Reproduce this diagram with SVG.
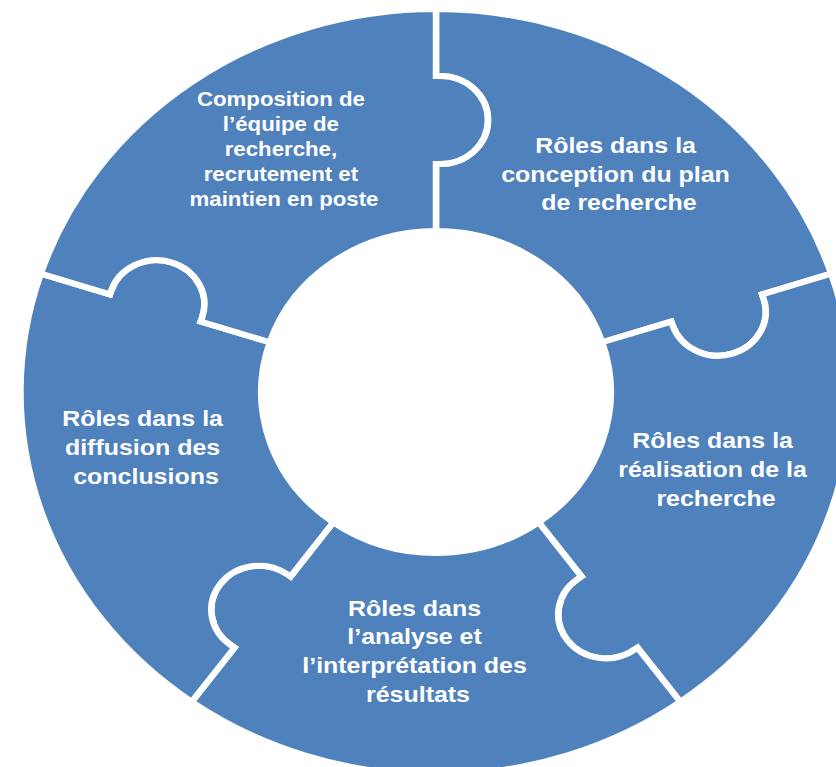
<svg xmlns="http://www.w3.org/2000/svg" xmlns:xlink="http://www.w3.org/1999/xlink" width="836" height="767" viewBox="0 0 836 767">
  <style>
    .piece { fill: #4f81bd; stroke: #ffffff; stroke-width: 6; stroke-linejoin: miter; }
    .lbl { font-family: "Liberation Sans", Arial, sans-serif; font-weight: bold; fill: #ffffff; text-anchor: middle; }
    .big { font-size: 23px; }
    .small { font-size: 20.5px; }
  </style>
  <defs>
    <path id="piece" d="M0,-161 L0,-228 L4,-228 A44,44 0 0 0 4,-316 L0,-316 L0,-383 A383,383 0 0 1 364.26,-118.35 L300.53,-97.65 L301.77,-93.85 A44,44 0 0 1 218.08,-66.65 L216.84,-70.46 L153.12,-49.75 A161,161 0 0 0 0,-161 Z"/>
  </defs>
  <rect width="836" height="767" fill="#ffffff"/>

  <g id="node-conception">
    <use xlink:href="#piece" href="#piece" class="piece" transform="translate(436,392) scale(1.085,1) rotate(0)"/>
    <text class="lbl big" transform="translate(619,0) scale(1.085,1)">
      <tspan x="0" y="153">Rôles dans la</tspan>
      <tspan x="0" y="182">conception du plan</tspan>
      <tspan x="0" y="210">de recherche</tspan>
    </text>
  </g>

  <g id="node-realisation">
    <use xlink:href="#piece" href="#piece" class="piece" transform="translate(436,392) scale(1.085,1) rotate(72)"/>
    <text class="lbl big" transform="translate(716,0) scale(1.085,1)">
      <tspan x="0" y="448">Rôles dans la</tspan>
      <tspan x="0" y="477">réalisation de la</tspan>
      <tspan x="0" y="506">recherche</tspan>
    </text>
  </g>

  <g id="node-analyse">
    <use xlink:href="#piece" href="#piece" class="piece" transform="translate(436,392) scale(1.085,1) rotate(144)"/>
    <text class="lbl big" transform="translate(418,0) scale(1.085,1)">
      <tspan x="0" y="616">Rôles dans</tspan>
      <tspan x="0" y="644">l’analyse et</tspan>
      <tspan x="0" y="673">l’interprétation des</tspan>
      <tspan x="0" y="702">résultats</tspan>
    </text>
  </g>

  <g id="node-diffusion">
    <use xlink:href="#piece" href="#piece" class="piece" transform="translate(436,392) scale(1.085,1) rotate(216)"/>
    <text class="lbl big" transform="translate(146,0) scale(1.085,1)">
      <tspan x="0" y="426">Rôles dans la</tspan>
      <tspan x="0" y="455">diffusion des</tspan>
      <tspan x="0" y="484">conclusions</tspan>
    </text>
  </g>

  <g id="node-composition">
    <use xlink:href="#piece" href="#piece" class="piece" transform="translate(436,392) scale(1.085,1) rotate(288)"/>
    <text class="lbl small" transform="translate(284,0) scale(1.085,1)">
      <tspan x="0" y="106">Composition de</tspan>
      <tspan x="0" y="131">l’équipe de</tspan>
      <tspan x="0" y="156">recherche,</tspan>
      <tspan x="0" y="181">recrutement et</tspan>
      <tspan x="0" y="206">maintien en poste</tspan>
    </text>
  </g>

  <g id="connectors"/>
</svg>
